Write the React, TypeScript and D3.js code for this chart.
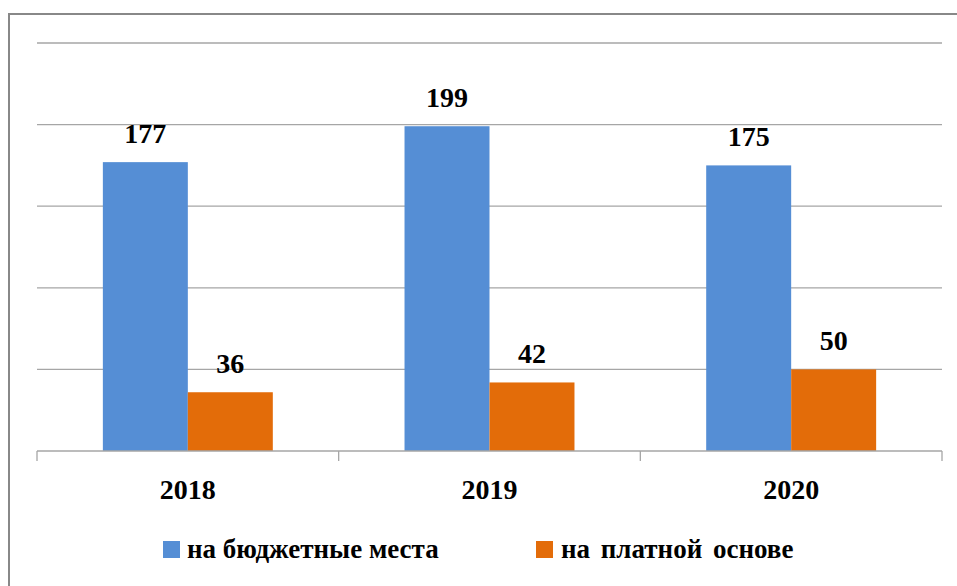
import React, { useEffect, useRef } from "react";
import * as d3 from "d3";

const categories = ["2018", "2019", "2020"];
const seriesNames = ["на бюджетные места", "на платной основе"];
const budgetValues = [177, 199, 175];
const paidValues = [36, 42, 50];
const yTicks = [0, 50, 100, 150, 200, 250];
const colors = ["#558ED5", "#E36C09"];

export default function App() {
  const ref = useRef<SVGSVGElement | null>(null);
  const W = 957, H = 586;

  useEffect(() => {
    const left = 37, right = 942, top = 43, bottom = 451;
    const svg = d3.select(ref.current);
    svg.selectAll("*").remove();
    const x0 = d3.scaleBand().domain(categories).range([left, right]).padding(0);
    const x1 = d3.scaleBand().domain(["0", "1"]).range([0, x0.bandwidth()]).paddingOuter(0.775).paddingInner(0);
    const y = d3.scaleLinear().domain([0, 250]).range([bottom, top]);
    const series = [budgetValues, paidValues];

    svg.append("rect").attr("x", 9).attr("y", 14).attr("width", W + 10).attr("height", H + 10)
      .attr("fill", "#fff").attr("stroke", "#888").attr("stroke-width", 2);

    svg.selectAll("line.grid").data(yTicks.slice(1)).enter().append("line")
      .attr("x1", left).attr("x2", right).attr("y1", (d) => y(d)).attr("y2", (d) => y(d))
      .attr("stroke", "#a6a6a6").attr("stroke-width", 1.3);

    categories.forEach((c, i) => {
      series.forEach((s, j) => {
        svg.append("rect")
          .attr("x", x0(c)! + x1(String(j))!).attr("y", y(s[i]))
          .attr("width", x1.bandwidth()).attr("height", bottom - y(s[i]))
          .attr("fill", colors[j]);
      });
    });

    svg.append("line").attr("x1", left).attr("x2", right).attr("y1", bottom).attr("y2", bottom)
      .attr("stroke", "#a6a6a6").attr("stroke-width", 1.3);
    [...categories.map((c) => x0(c)!), right].forEach((xx) => {
      svg.append("line").attr("x1", xx).attr("x2", xx).attr("y1", bottom).attr("y2", bottom + 10)
        .attr("stroke", "#a6a6a6").attr("stroke-width", 1.3);
    });

    const txt = (x: number, yy: number, s: string, size: number, anchor: string) =>
      svg.append("text").attr("x", x).attr("y", yy).attr("text-anchor", anchor)
        .attr("font-family", "Liberation Serif").attr("font-weight", "bold").attr("font-size", size)
        .style("font-family", "Liberation Serif").style("font-weight", "700")
        .attr("fill", "#000").text(s);

    categories.forEach((c, i) => {
      series.forEach((s, j) => {
        txt(x0(c)! + x1(String(j))! + x1.bandwidth() / 2, y(s[i]) - 19, String(s[i]), 28, "middle");
      });
      txt(x0(c)! + x0.bandwidth() / 2, 499, c, 28, "middle");
    });

    svg.append("rect").attr("x", 163).attr("y", 541).attr("width", 17).attr("height", 17).attr("fill", colors[0]);
    txt(187, 558, seriesNames[0], 27, "start");
    svg.append("rect").attr("x", 536).attr("y", 541).attr("width", 17).attr("height", 17).attr("fill", colors[1]);
    txt(561, 558, seriesNames[1], 27, "start").attr("word-spacing", 4);
  }, []);

  return <svg ref={ref} width={W} height={H} style={{ position: "absolute", left: 0, top: 0 }} />;
}
